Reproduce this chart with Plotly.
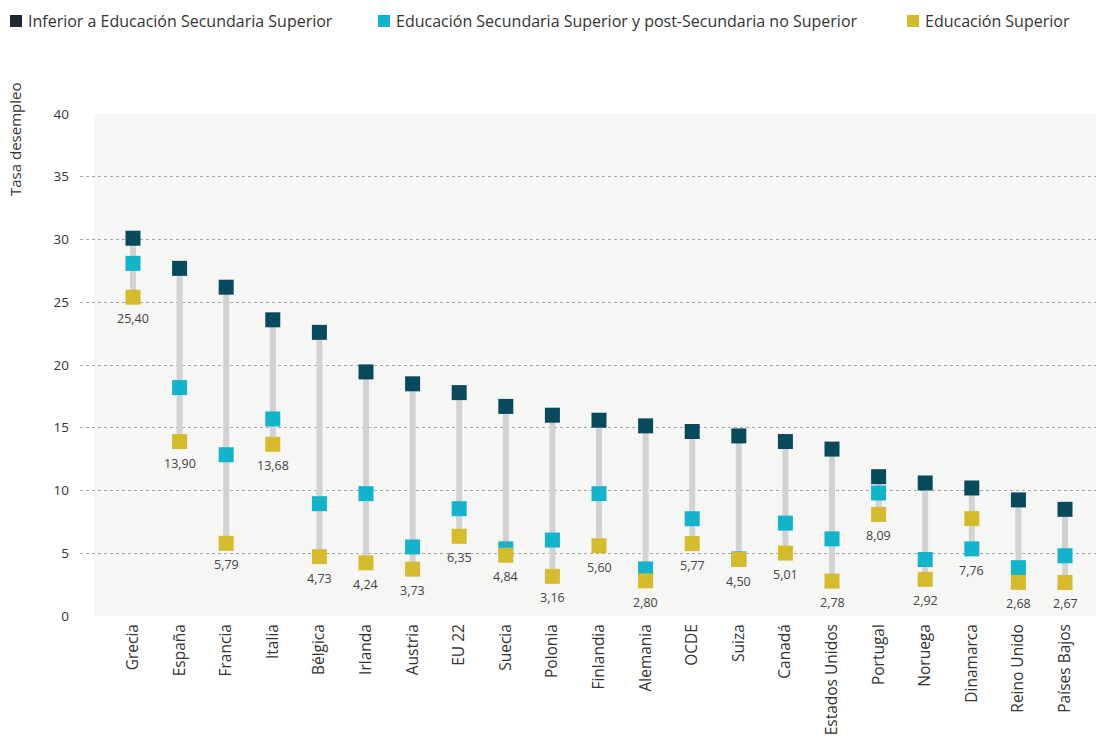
import plotly.graph_objects as go

categories = ["Grecia", "España", "Francia", "Italia", "Bélgica", "Irlanda", "Austria",
              "EU 22", "Suecia", "Polonia", "Finlandia", "Alemania", "OCDE", "Suiza",
              "Canadá", "Estados Unidos", "Portugal", "Noruega", "Dinamarca",
              "Reino Unido", "Países Bajos"]

inferior = [30.1, 27.7, 26.2, 23.6, 22.6, 19.45, 18.5, 17.8, 16.7, 16.0, 15.6, 15.15,
            14.7, 14.35, 13.9, 13.3, 11.1, 10.6, 10.2, 9.25, 8.5]
secundaria = [28.1, 18.2, 12.85, 15.7, 8.95, 9.75, 5.5, 8.55, 5.35, 6.05, 9.75, 3.75,
              7.75, 4.55, 7.4, 6.15, 9.8, 4.5, 5.35, 3.85, 4.8]
superior = [25.40, 13.90, 5.79, 13.68, 4.73, 4.24, 3.73, 6.35, 4.84, 3.16, 5.60, 2.80,
            5.77, 4.50, 5.01, 2.78, 8.09, 2.92, 7.76, 2.68, 2.67]

series_names = ["Inferior a Educación Secundaria Superior",
                "Educación Secundaria Superior y post-Secundaria no Superior",
                "Educación Superior"]
colors = ["#074a5e", "#12b4cb", "#d6bb2c"]
legend_colors = ["#1b2733", "#12b4cb", "#d6bb2c"]

FONT = "Open Sans"
idx = list(range(len(categories)))

# plot-area geometry in pixels (for converting legend placement)
L, T, B, W, H = 80, 114, 120, 1096, 736
PW, PH = W - L, H - T - B


def px_x(px):
    return (px - L) / PW


def px_y(py):
    return (H - B - py) / PH


fig = go.Figure()

# background panel of plot
fig.add_shape(type="rect", xref="x", yref="y", x0=-0.837, x1=20.7, y0=0, y1=40,
              fillcolor="#f6f6f4", line_width=0, layer="below")

# range lines
lx, ly = [], []
for i in idx:
    vals = [inferior[i], secundaria[i], superior[i]]
    lx += [i, i, None]
    ly += [max(vals), min(vals), None]
fig.add_trace(go.Scatter(x=lx, y=ly, mode="lines", line=dict(color="#d2d2d4", width=6),
                         showlegend=False, hoverinfo="skip"))

for name, vals, col in zip(series_names, [inferior, secundaria, superior], colors):
    fig.add_trace(go.Scatter(x=idx, y=vals, mode="markers", name=name, showlegend=False,
                             marker=dict(symbol="square", size=15, color=col,
                                         line=dict(width=0))))

# value labels (Educación Superior) below lowest marker
for i in idx:
    low = min(inferior[i], secundaria[i], superior[i])
    fig.add_annotation(x=i, y=low, xref="x", yref="y", yanchor="top", yshift=-11,
                       text=f"{superior[i]:.2f}".replace(".", ","), showarrow=False,
                       font=dict(family=FONT, size=12.5, color="#444444"))

fig.add_annotation(xref="paper", yref="paper", x=px_x(15), y=px_y(140), xanchor="center",
                   yanchor="middle", textangle=-90, text="Tasa desempleo", showarrow=False,
                   font=dict(family=FONT, size=15, color="#333333"))

# legend row
legend_square_px = [10, 378, 907]
for name, lcol, sx in zip(series_names, legend_colors, legend_square_px):
    fig.add_shape(type="rect", xref="paper", yref="paper",
                  x0=px_x(sx), x1=px_x(sx + 12), y0=px_y(27), y1=px_y(15),
                  fillcolor=lcol, line_width=0)
    fig.add_annotation(xref="paper", yref="paper", x=px_x(sx + 16), y=px_y(21),
                       xanchor="left", yanchor="middle", text=name, showarrow=False,
                       font=dict(family=FONT, size=16, color="#333333"))

fig.update_layout(
    width=W, height=H,
    margin=dict(l=L, r=0, t=T, b=B),
    paper_bgcolor="white", plot_bgcolor="rgba(0,0,0,0)",
    font=dict(family=FONT, color="#333333"),
    showlegend=False,
    xaxis=dict(range=[-1.137, 20.665], tickmode="array", tickvals=idx, ticktext=categories,
               tickangle=-90, showgrid=False, zeroline=False, showline=False,
               tickfont=dict(family=FONT, size=15.5, color="#333333"), ticks="",
               ticklabelstandoff=4, automargin=False),
    yaxis=dict(range=[0, 40], tickvals=[0, 5, 10, 15, 20, 25, 30, 35, 40],
               showgrid=True, gridcolor="#a8a8a8", griddash="dot", gridwidth=1,
               zeroline=False, showline=False, ticks="",
               tickfont=dict(family=FONT, size=13.5, color="#333333"),
               ticklabelstandoff=10, automargin=False),
)

fig.write_html("out.html", config={"displayModeBar": False},
               post_script="document.body.style.margin='0';document.body.style.padding='0';")
